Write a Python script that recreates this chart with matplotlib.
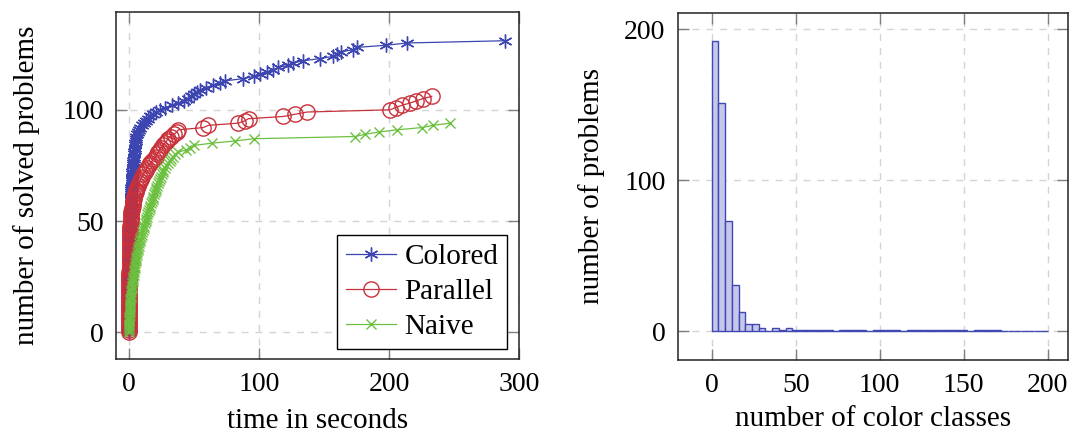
import numpy as np
import matplotlib
matplotlib.use("Agg")
import matplotlib.pyplot as plt

plt.rcParams['font.family'] = ['Liberation Serif', 'DejaVu Serif']

# sorted solve times in seconds, one entry per solved problem (cactus plot)
colored_times = [
    0.0, 0.0, 0.0, 0.0, 0.0, 0.0, 0.0, 0.1, 0.1, 0.1,
    0.1, 0.1, 0.1, 0.1, 0.2, 0.2, 0.2, 0.2, 0.2, 0.2,
    0.2, 0.3, 0.3, 0.3, 0.3, 0.3, 0.3, 0.4, 0.4, 0.4,
    0.4, 0.4, 0.5, 0.5, 0.5, 0.5, 0.6, 0.6, 0.6, 0.6,
    0.7, 0.7, 0.7, 0.8, 0.8, 0.8, 0.9, 0.9, 0.9, 1.0,
    1.0, 1.0, 1.1, 1.1, 1.2, 1.2, 1.3, 1.3, 1.4, 1.4,
    1.5, 1.6, 1.6, 1.7, 1.8, 1.9, 2.0, 2.1, 2.2, 2.3,
    2.4, 2.5, 2.6, 2.8, 2.9, 3.0, 3.2, 3.3, 3.5, 3.7,
    3.9, 4.1, 4.3, 4.5, 4.7, 4.9, 5.1, 5.4, 5.6, 6.2,
    7.0, 7.8, 8.5, 9.8, 11.5, 13.2, 14.8, 16.5, 18.5, 21.0,
    24.0, 27.5, 33.0, 38.0, 42.0, 45.5, 47.5, 50.0, 52.5, 54.6,
    59.0, 65.0, 70.0, 74.0, 88.0, 96.0, 101.0, 106.0, 111.0, 115.0,
    122.5, 126.0, 134.0, 147.0, 157.0, 160.0, 163.0, 172.5, 175.0, 198.0,
    214.0, 289.0,
]
parallel_times = [
    0.0, 0.0, 0.0, 0.0, 0.0, 0.0, 0.0, 0.0, 0.1, 0.1,
    0.1, 0.1, 0.1, 0.1, 0.1, 0.2, 0.2, 0.2, 0.2, 0.2,
    0.2, 0.2, 0.3, 0.3, 0.3, 0.3, 0.3, 0.3, 0.4, 0.4,
    0.4, 0.4, 0.5, 0.5, 0.5, 0.5, 0.6, 0.6, 0.6, 0.7,
    0.7, 0.7, 0.8, 0.8, 0.9, 0.9, 1.0, 1.0, 1.1, 1.2,
    1.3, 1.4, 1.5, 1.7, 1.9, 2.1, 2.4, 2.7, 3.0, 3.4,
    3.8, 4.2, 4.7, 5.2, 5.7, 6.3, 7.0, 7.8, 8.5, 9.3,
    10.2, 11.0, 12.0, 13.0, 14.0, 15.2, 16.5, 17.8, 19.0, 20.5,
    21.5, 22.5, 23.5, 24.5, 26.0, 27.5, 29.0, 30.0, 32.0, 34.5,
    36.7, 38.0, 57.0, 61.0, 84.0, 89.0, 92.0, 118.7, 127.7, 137.0,
    201.0, 205.0, 209.8, 216.0, 221.0, 225.9, 232.8,
]
naive_times = [
    0.0, 0.0, 0.1, 0.1, 0.2, 0.2, 0.3, 0.3, 0.4, 0.5,
    0.6, 0.7, 0.8, 0.9, 1.0, 1.1, 1.2, 1.4, 1.6, 1.8,
    2.0, 2.2, 2.4, 2.7, 3.0, 3.3, 3.6, 3.9, 4.2, 4.5,
    4.5, 4.8, 5.1, 5.4, 5.7, 6.0, 6.4, 6.8, 7.2, 7.6,
    8.0, 8.4, 8.8, 9.2, 9.7, 10.2, 10.7, 11.2, 11.7, 12.2,
    12.7, 13.2, 13.7, 14.2, 14.7, 15.2, 15.8, 16.4, 17.0, 17.6,
    18.2, 18.8, 19.4, 20.0, 20.5, 21.0, 21.7, 22.4, 23.1, 23.8,
    24.5, 25.2, 25.8, 26.4, 27.5, 28.7, 30.0, 31.3, 32.6, 34.0,
    35.4, 38.0, 44.0, 47.0, 50.0, 63.6, 81.5, 96.0,
    173.8, 181.5, 192.0, 206.0, 225.0, 233.6, 247.0,
]

# number of problems per number of colour classes, bins of width 4 from 0 to 200
bin_width = 4
class_counts = [
    192, 151, 73, 31, 13, 5, 5, 2, 0, 2,
    1, 2, 1, 1, 1, 1, 1, 1, 0, 1,
    1, 1, 1, 0, 1, 1, 1, 1, 0, 1,
    1, 1, 1, 1, 1, 1, 1, 1, 0, 1,
    1, 1, 1, 0, 0, 0, 0, 0, 0, 0,
]

blue = '#3d45b0'
red = '#c8303a'
green = '#6cc040'
grid_color = '#d4d4d4'

fig = plt.figure(figsize=(10.73, 4.37), dpi=100)
ax1 = fig.add_axes([0.1081, 0.178, 0.3756, 0.795])
ax2 = fig.add_axes([0.6319, 0.176, 0.3635, 0.795])

# left: cactus plot
ax1.plot(colored_times, np.arange(len(colored_times)), color=blue, lw=0.9,
         marker=(6, 2, 0), markersize=10, markeredgewidth=1.0, label='Colored')
ax1.plot(parallel_times, np.arange(len(parallel_times)), color=red, lw=0.9,
         marker='o', markersize=11, markerfacecolor='none', markeredgewidth=1.0,
         label='Parallel')
ax1.plot(naive_times, np.arange(len(naive_times)), color=green, lw=0.9,
         marker='x', markersize=7, markeredgewidth=1.0, label='Naive')
ax1.set_xlim(-10, 300)
ax1.set_ylim(-12, 144)
ax1.set_xticks([0, 100, 200, 300])
ax1.set_yticks([0, 50, 100])
ax1.set_xlabel('time in seconds', fontsize=21, labelpad=8)
ax1.set_ylabel('number of solved problems', fontsize=21, labelpad=16)
leg = ax1.legend(loc='lower right', bbox_to_anchor=(0.970, 0.029), borderaxespad=0,
                 fontsize=21, fancybox=False, framealpha=1, edgecolor='black',
                 handlelength=1.7, handletextpad=0.3, labelspacing=0.3,
                 borderpad=0.3)
leg.get_frame().set_linewidth(1.0)

# right: histogram of colour classes
edges = np.arange(0, 200, bin_width)
ax2.bar(edges, class_counts, width=bin_width, align='edge', color='#c6c8ea',
        edgecolor='#3f47b3', linewidth=1.0)
ax2.set_xlim(-20, 212)
ax2.set_ylim(-19, 211)
ax2.set_xticks([0, 50, 100, 150, 200])
ax2.set_yticks([0, 100, 200])
ax2.set_xlabel('number of color classes', fontsize=21, labelpad=6)
ax2.set_ylabel('number of problems', fontsize=21, labelpad=14)

for ax in (ax1, ax2):
    ax.set_axisbelow(True)
    ax.grid(True, linestyle=(0, (5, 5)), color=grid_color, lw=1)
    ax.tick_params(direction='in', length=8, width=1, color='#808080',
                   top=True, right=True, labelsize=20, pad=9)
    for s in ax.spines.values():
        s.set_linewidth(1.1)
        s.set_color('#222222')

fig.savefig('out.png', dpi=100)
